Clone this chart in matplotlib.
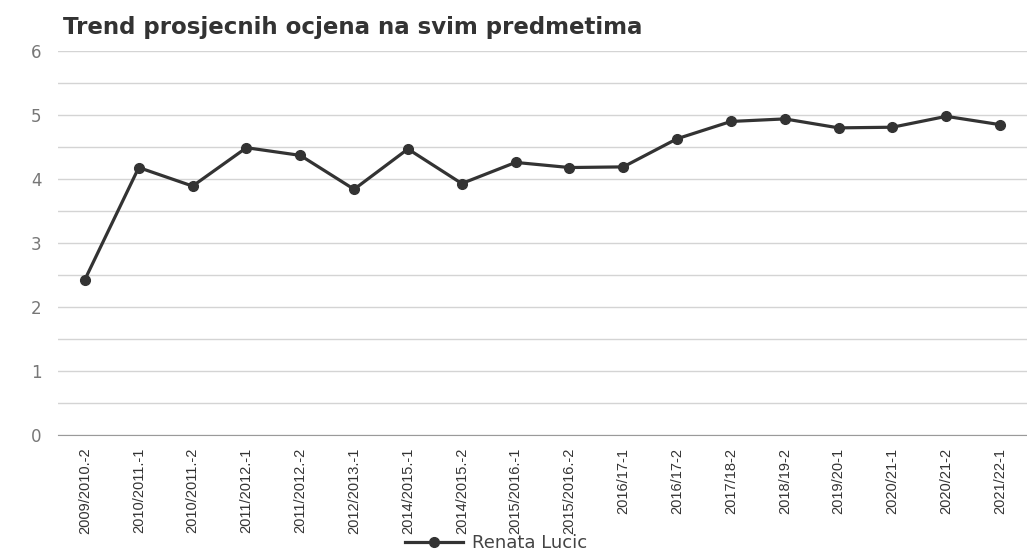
import matplotlib
matplotlib.use("Agg")
import matplotlib.pyplot as plt
import numpy as np

# semester labels and average grades
semesters = ["2009/2010.-2", "2010/2011.-1", "2010/2011.-2", "2011/2012.-1",
             "2011/2012.-2", "2012/2013.-1", "2014/2015.-1", "2014/2015.-2",
             "2015/2016.-1", "2015/2016.-2", "2016/17-1", "2016/17-2",
             "2017/18-2", "2018/19-2", "2019/20-1", "2020/21-1",
             "2020/21-2", "2021/22-1"]
averages = [2.43, 4.18, 3.89, 4.49, 4.37, 3.84, 4.47, 3.93, 4.26,
            4.18, 4.19, 4.63, 4.90, 4.94, 4.80, 4.81, 4.98, 4.85]
y_ticks = [0, 1, 2, 3, 4, 5, 6]
series_name = "Renata Lucic"

fig = plt.figure(figsize=(10.27, 5.54), dpi=100)
ax = fig.add_axes([0.0565, 0.2148, 0.9435, 0.693])

x = np.arange(len(semesters))
ax.plot(x, averages, color="#333333", lw=2.3, marker="o", ms=7,
        label=series_name)

ax.set_xlim(-0.5, len(semesters) - 0.5)
ax.set_ylim(0, 6)
ax.set_yticks(y_ticks)
ax.set_yticks(np.arange(0.5, 6, 1.0), minor=True)
ax.grid(axis="y", which="both", color="#d4d4d4", lw=1.0)
ax.set_axisbelow(True)

for s in ["top", "right", "left"]:
    ax.spines[s].set_visible(False)
ax.spines["bottom"].set_color("#9a9a9a")

ax.set_xticks(x)
ax.set_xticklabels(semesters, rotation=90, fontsize=10.5, color="#333333",
                   family="Liberation Sans")
ax.tick_params(axis="x", length=0, pad=9)
ax.tick_params(axis="y", which="both", length=0, pad=12, labelsize=12,
               labelcolor="#777777")

fig.text(0.061, 0.95, "Trend prosjecnih ocjena na svim predmetima",
         fontsize=16.5, fontweight="bold", color="#333333", va="center")

fig.legend(loc="center", bbox_to_anchor=(0.483, 0.02), frameon=False,
           handlelength=3.2, fontsize=13, labelcolor="#444444",
           borderpad=0, handletextpad=0.5)

fig.savefig("out.png", dpi=100)
